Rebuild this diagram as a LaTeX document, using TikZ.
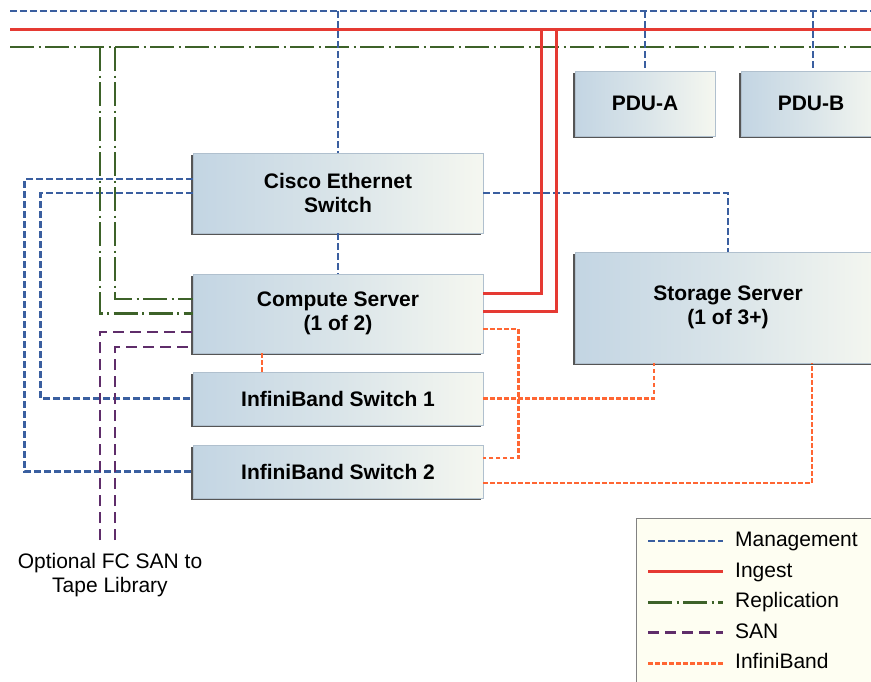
\documentclass[tikz,border=0pt]{standalone}
\usepackage{fontspec}
\setmainfont{Liberation Sans}
\usetikzlibrary{shadows}

\tikzset{
  unit/.style={rectangle, draw=frameColor, line width=0.8pt, left color=boxBlue, right color=boxLight,
    middle color=boxBlue!55!boxLight, drop shadow={shadow xshift=-1.6pt, shadow yshift=-1.6pt, fill=shadowColor, opacity=1},
    font=\fontsize{21}{24}\selectfont\bfseries, align=center, inner sep=0pt},
  mgmt/.style={draw=mgmtColor, line width=2.7pt, dash pattern=on 6.5pt off 3.5pt},
  ingest/.style={draw=ingestColor, line width=3pt},
  repl/.style={draw=replColor, line width=2.9pt, dash pattern=on 24pt off 4.5pt on 2pt off 4.5pt},
  san/.style={draw=sanColor, line width=2.9pt, dash pattern=on 11pt off 6pt},
  ib/.style={draw=ibColor, line width=2.7pt, dash pattern=on 4.5pt off 2.5pt},
  keytext/.style={font=\fontsize{21}{24}\selectfont, inner sep=0pt}
}

\begin{document}
\begin{tikzpicture}[x=1pt,y=-1pt]
\definecolor{mgmtColor}{RGB}{58,95,160}
\definecolor{ingestColor}{RGB}{229,58,51}
\definecolor{replColor}{RGB}{61,98,41}
\definecolor{sanColor}{RGB}{95,45,106}
\definecolor{ibColor}{RGB}{255,102,51}
\definecolor{boxBlue}{RGB}{195,213,227}
\definecolor{boxLight}{RGB}{245,247,240}
\definecolor{frameColor}{RGB}{176,192,206}
\definecolor{shadowColor}{RGB}{85,85,85}
\definecolor{keyFill}{RGB}{254,254,242}
\definecolor{keyFrame}{RGB}{130,130,130}
\path[use as bounding box,fill=white] (0,0) rectangle (871,681);
\clip (0,0) rectangle (871,681);

\node[unit, minimum width=290pt, minimum height=80pt] (cisco) at (338,193.0) {Cisco Ethernet\\Switch};
\node[unit, minimum width=290pt, minimum height=79pt] (compute) at (338,313.5) {Compute Server\\(1 of 2)};
\node[unit, minimum width=290pt, minimum height=53pt] (ib1) at (338,398.5) {InfiniBand Switch 1};
\node[unit, minimum width=290pt, minimum height=53pt] (ib2) at (338,471.5) {InfiniBand Switch 2};
\node[unit, minimum width=140pt, minimum height=65pt] (pduA) at (645,103.5) {PDU-A};
\node[unit, minimum width=140pt, minimum height=65pt] (pduB) at (811,103.5) {PDU-B};
\node[unit, minimum width=306pt, minimum height=111pt] (storage) at (728,307.5) {Storage Server\\(1 of 3+)};

\coordinate (mgmtW) at ( 10, 11);
\coordinate (mgmtE) at (871, 11);
\coordinate (ingestW) at ( 10, 29);
\coordinate (ingestE) at (871, 29);
\coordinate (replW) at ( 10, 47);
\coordinate (replE) at (871, 47);
\coordinate (repl1) at (100, 47);
\coordinate (repl2) at (115, 47);
\coordinate (ingest1) at (541, 29);
\coordinate (ingest2) at (556, 29);
\coordinate (tape1) at (100,540);
\coordinate (tape2) at (115,540);

\draw[mgmt] (mgmtW) -- (mgmtE);
\draw[ingest] (ingestW) -- (ingestE);
\draw[repl] (replW) -- (replE);

\draw[mgmt] (cisco.north |- mgmtW) -- (cisco.north);
\draw[mgmt] (cisco.south) -- (compute.north);
\draw[mgmt] (pduA.north |- mgmtW) -- (pduA.north);
\draw[mgmt] ([xshift=2pt]pduB.north |- mgmtW) -- ([xshift=2pt]pduB.north);
\draw[mgmt] ([yshift=14pt]cisco.west) -- ++(-168,0) |- (ib2.west);
\draw[mgmt] (cisco.west) -- ++(-152,0) |- (ib1.west);
\draw[mgmt] (cisco.east) -| (storage.north);

\draw[repl] (repl1) |- (compute.west);
\draw[repl] (repl2) |- ([yshift=14.5pt]compute.west);

\draw[san] (tape1) |- ([yshift=-18.5pt]compute.west);
\draw[san] (tape2) |- ([yshift=-33.5pt]compute.west);

\draw[ingest] (ingest1) |- ([yshift=20.5pt]compute.east);
\draw[ingest] (ingest2) |- ([yshift=2.5pt]compute.east);

\draw[ib] ([yshift=-15.5pt]compute.east) -- ++(35,0) |- ([yshift=13.5pt]ib2.east);
\draw[ib] ([xshift=-76pt]compute.south) -- ([xshift=-76pt]ib1.north);
\draw[ib] (ib1.east) -| ([xshift=-74pt]storage.south);
\draw[ib] ([yshift=-11.5pt]ib2.east) -| ([xshift=84pt]storage.south);

\node[keytext, align=center] (tapeNote) at (110,575) {Optional FC SAN to\\Tape Library};

\node[draw=keyFrame, fill=keyFill, line width=1.2pt, anchor=north west, minimum width=250pt, minimum height=180pt] (key) at (636,518) {};
\foreach \kind/\name [count=\k] in {mgmt/Management, ingest/Ingest, repl/Replication, san/SAN, ib/InfiniBand}{
  \pgfmathsetmacro\yy{510.4+30.6*\k}
  \draw[\kind] (648,\yy) -- (723,\yy);
  \node[keytext, anchor=base west] at (735,\yy+5.5) {\name};
}
\end{tikzpicture}
\end{document}
